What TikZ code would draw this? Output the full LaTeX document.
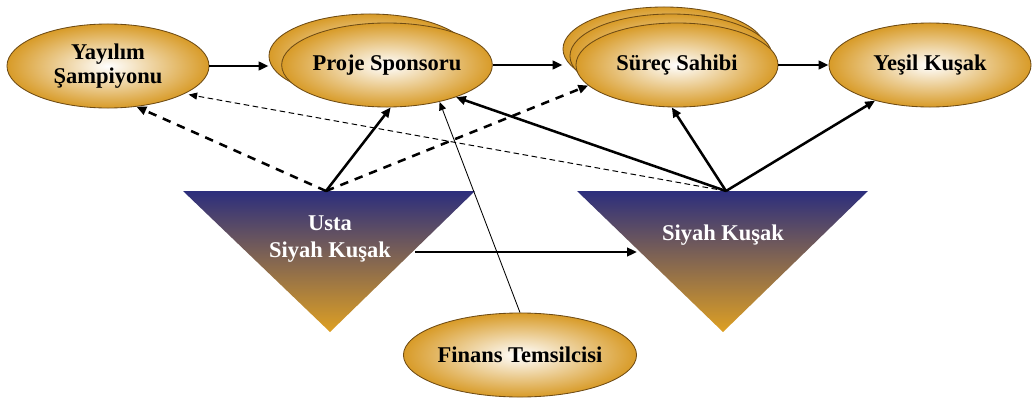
\documentclass[tikz,border=0pt]{standalone}
\usepackage{fontspec}
\setmainfont{Liberation Serif}
\usetikzlibrary{shapes, arrows.meta, positioning, calc}
\definecolor{goldfill}{RGB}{216, 155, 40}
\definecolor{goldedge}{RGB}{110, 75, 20}
\definecolor{navytop}{RGB}{44, 46, 125}
\definecolor{goldbot}{RGB}{222, 160, 35}

\tikzset{
  role/.style={ellipse, draw=goldedge, line width=0.6pt, inner color=white, outer color=goldfill,
    minimum width=5.05cm, minimum height=2.1cm, inner sep=0pt, align=center,
    font=\fontsize{16}{17}\selectfont\bfseries},
  belt/.style={draw=none, top color=navytop, bottom color=goldbot},
  belttext/.style={text=white, align=center, font=\fontsize{16}{19}\selectfont\bfseries},
  strong/.style={-{Triangle[length=7pt,width=6pt]}, line width=1.8pt},
  weakdash/.style={-{Triangle[length=6pt,width=5pt]}, line width=0.7pt, dash pattern=on 4pt off 2.5pt},
  strongdash/.style={-{Triangle[length=7pt,width=6pt]}, line width=1.8pt, dash pattern=on 6pt off 5pt},
  thin/.style={-{Triangle[length=6pt,width=5pt]}, line width=0.6pt}
}

\begin{document}
\begin{tikzpicture}[x=0.025cm, y=-0.025cm]
  \useasboundingbox (0,0) rectangle (1033,401);

  % top row of roles
  \node[role] (yayilim) at (108,66) {Yayılım\\Şampiyonu};
  \node[role] (sponsorB) at (370,56) {};
  \node[role] (sponsor) at (387,65) {Proje Sponsoru};
  \node[role] (sahipC) at (664,49) {};
  \node[role] (sahipB) at (671,56) {};
  \node[role] (sahip) at (677,65) {Süreç Sahibi};
  \node[role] (yesil) at (930,65) {Yeşil Kuşak};
  \node[role] (finans) at (520,355) {Finans Temsilcisi};

  % belts
  \path[belt] (183,191) -- (475,191) -- (330,332) -- cycle;
  \path[belt] (577,191) -- (868,191) -- (723,332) -- cycle;
  \node[belttext] (usta) at (330,239) {Usta\\Siyah Kuşak};
  \node[belttext] (siyah) at (723,235) {Siyah Kuşak};
  \coordinate (ustaTop) at (326,191);
  \coordinate (siyahTop) at (726,191);
  \coordinate (ustaSide) at (415,252);
  \coordinate (siyahSide) at (637,252);

  % connectors
  \draw[strong] (yayilim.east) -- (sponsorB.west |- yayilim.east);
  \draw[strong] (sponsor.east) -- (sahipC.west |- sponsor.east);
  \draw[strong] (sahip) -- (yesil);
  \draw[strong] (ustaTop) -- (sponsor.-85);
  \draw[strongdash] (ustaTop) -- (yayilim.-55);
  \draw[strongdash] (ustaTop) -- (sahip.-167);
  \draw[strong] (siyahTop) -- (sponsor.-25);
  \draw[strong] (siyahTop) -- (sahip.-97);
  \draw[strong] (siyahTop) -- (yesil.-147);
  \draw[weakdash, shorten >=3pt] (siyahTop) -- (yayilim.-20);
  \draw[thin] (finans.north) -- (sponsor.-35);
  \draw[strong] (ustaSide) -- (siyahSide);
\end{tikzpicture}
\end{document}
